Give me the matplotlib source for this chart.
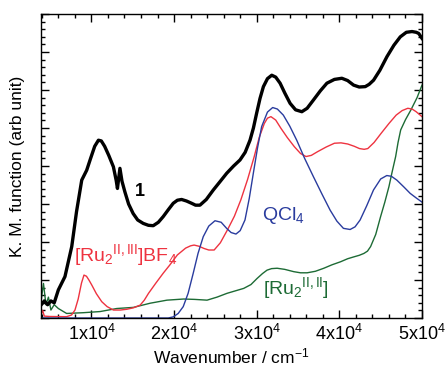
import matplotlib
matplotlib.use('Agg')
import matplotlib.pyplot as plt
from matplotlib.ticker import MultipleLocator, FixedLocator

plt.rcParams['font.family'] = ['Liberation Sans', 'DejaVu Sans']
plt.rcParams['mathtext.fontset'] = 'custom'
plt.rcParams['mathtext.rm'] = 'Liberation Sans'
plt.rcParams['mathtext.it'] = 'Liberation Sans:italic'
plt.rcParams['mathtext.bf'] = 'Liberation Sans:bold'

# compound 1 (black)
x_1 = [3900, 4300, 4700, 5100, 5500, 6000, 6800, 7620, 8200, 8830, 9430, 9900, 10400,
       10850, 11200, 11600, 12100, 12660, 13000, 13150, 13450, 13700, 14050, 14500,
       15050, 15600, 16270, 16900, 17480, 18100, 18690, 19300, 19900, 20400, 20910,
       21500, 22120, 22600, 23130, 23900, 24750, 25600, 26370, 27200, 27980, 28600,
       29190, 29600, 30000, 30400, 30810, 31300, 31820, 32300, 32830, 33400, 34040,
       34700, 35460, 36100, 36870, 37700, 38490, 39400, 40300, 41000, 41720, 42400,
       43130, 43600, 44140, 44900, 45760, 46600, 47370, 48100, 48790, 49300, 49600, 50000]
y_1 = [0.34, 0.45, 0.35, 0.45, 0.40, 0.74, 1.09, 1.88, 2.80, 3.63, 3.89, 4.20, 4.52,
       4.68, 4.66, 4.52, 4.28, 3.98, 3.62, 3.41, 3.94, 3.60, 3.32, 3.00,
       2.75, 2.58, 2.49, 2.44, 2.43, 2.52, 2.67, 2.85, 3.02, 3.10, 3.12,
       3.08, 3.02, 2.97, 2.97, 3.12, 3.37, 3.60, 3.81, 4.00, 4.16, 4.36,
       4.68, 5.00, 5.40, 5.78, 6.09, 6.30, 6.39, 6.34, 6.18, 5.92, 5.65,
       5.48, 5.43, 5.52, 5.74, 5.98, 6.18, 6.28, 6.31, 6.25, 6.13, 6.08,
       6.09, 6.15, 6.26, 6.52, 6.88, 7.18, 7.40, 7.52, 7.54, 7.52, 7.49, 7.36]

# [Ru2 II,III]BF4 (red)
x_red = [3900, 4100, 4300, 5000, 7000, 7600, 8010, 8400, 8800, 9100, 9400, 9700, 10040,
         10600, 11250, 11900, 12660, 13500, 14280, 15100, 15900, 16400, 16910, 17800,
         18690, 19500, 20400, 21400, 22000, 22420, 23000, 23630, 24200, 24850, 25600,
         26460, 27300, 28080, 28900, 29700, 30300, 30920, 31300, 31720, 32300, 32940,
         33700, 34550, 35300, 35960, 36600, 37380, 38400, 39400, 40200, 41010, 41800,
         42430, 43000, 43440, 44200, 45050, 46000, 46870, 47600, 48280, 48800, 49290, 50000]
y_red = [0.08, 0.20, 0.05, 0.04, 0.035, 0.08, 0.21, 0.50, 0.92, 1.13, 1.10, 1.00, 0.87,
         0.64, 0.43, 0.30, 0.21, 0.21, 0.23, 0.27, 0.34, 0.47, 0.65, 0.92,
         1.18, 1.40, 1.66, 1.84, 1.90, 1.92, 1.89, 1.83, 1.79, 1.79, 1.98,
         2.32, 2.68, 3.11, 3.65, 4.25, 4.75, 5.12, 5.26, 5.30, 5.21, 4.99,
         4.75, 4.51, 4.33, 4.25, 4.28, 4.38, 4.50, 4.60, 4.61, 4.58, 4.52,
         4.46, 4.44, 4.46, 4.62, 4.86, 5.12, 5.34, 5.46, 5.52, 5.50, 5.43, 5.30]

# QCl4 (blue)
x_blue = [3900, 10000, 15000, 19300, 19900, 20500, 21110, 21700, 22320, 22900, 23530,
          24200, 24950, 25700, 26360, 26900, 27490, 28000, 28580, 29100, 29590, 30100,
          30600, 31300, 31930, 32500, 33220, 34000, 34840, 35800, 36860, 37900, 38880,
          39700, 40490, 41300, 41900, 42510, 43300, 44130, 45000, 45740, 46300, 46950,
          47800, 48570, 49300, 50000]
y_blue = [0.0, 0.0, 0.0, 0.0, 0.03, 0.12, 0.30, 0.65, 1.18, 1.70, 2.14,
          2.42, 2.56, 2.52, 2.36, 2.25, 2.21, 2.30, 2.58, 3.15, 3.81, 4.48,
          5.04, 5.42, 5.54, 5.50, 5.34, 5.05, 4.68, 4.20, 3.72, 3.26, 2.84,
          2.55, 2.36, 2.33, 2.40, 2.58, 2.95, 3.37, 3.66, 3.75, 3.73, 3.63,
          3.45, 3.28, 3.16, 3.05]

# [Ru2 II,II] (green)
x_green = [3900, 4200, 4500, 4800, 5100, 5500, 6000, 7000, 9020, 11050, 13070, 15090,
           17120, 19140, 21160, 22500, 23990, 25200, 26410, 28430, 29300, 30040, 30700,
           31250, 31800, 32470, 33400, 34480, 35300, 36100, 37100, 38120, 39100, 40140,
           41000, 41760, 42400, 42970, 43400, 43780, 44400, 44990, 45500, 46000, 46400,
           46810, 47100, 47420, 48000, 48640, 49400, 50000]
y_green = [0.43, 0.91, 0.35, 0.55, 0.21, 0.35, 0.25, 0.12, 0.14, 0.17, 0.25, 0.28,
           0.39, 0.47, 0.50, 0.49, 0.47, 0.55, 0.65, 0.78, 0.88, 1.04, 1.17,
           1.26, 1.30, 1.31, 1.28, 1.22, 1.19, 1.19, 1.23, 1.31, 1.40, 1.48,
           1.56, 1.61, 1.65, 1.70, 1.76, 1.88, 2.20, 2.67, 3.05, 3.46, 3.86,
           4.25, 4.62, 4.95, 5.22, 5.47, 5.80, 6.13]

fig = plt.figure(figsize=(4.48, 3.70), dpi=100)
ax = fig.add_axes([0.0915, 0.1405, 0.8505, 0.8215])

ax.plot(x_green, y_green, color='#1d6b35', lw=1.0)
ax.plot(x_red, y_red, color='#ee3340', lw=1.0)
ax.plot(x_blue, y_blue, color='#2a3c9e', lw=1.0)
ax.plot(x_1, y_1, color='black', lw=2.4)

ax.text(15200, 3.33, '1', color='black', fontsize=13, fontweight='bold', va='center')
ax.text(30600, 2.71, 'QCl$_4$', color='#2a3c9e', fontsize=14, va='center')
ax.text(14080, 1.66, '[Ru$_2$$^{\\mathrm{II,III}}$]BF$_4$', color='#ee3340',
        fontsize=14, va='center', ha='center')
ax.text(34770, 0.78, '[Ru$_2$$^{\\mathrm{II,II}}$]', color='#1d6b35',
        fontsize=14, va='center', ha='center')

ax.set_xlim(3900, 50000)
ax.set_ylim(0, 8)
ax.xaxis.set_major_locator(FixedLocator([10000, 20000, 30000, 40000, 50000]))
ax.set_xticklabels(['1x10$^4$', '2x10$^4$', '3x10$^4$', '4x10$^4$', '5x10$^4$'])
ax.xaxis.set_minor_locator(MultipleLocator(2000))
ax.yaxis.set_major_locator(MultipleLocator(1))
ax.yaxis.set_minor_locator(MultipleLocator(0.2))
ax.set_yticklabels([])
ax.tick_params(which='both', direction='in', top=True, right=True, width=1.0, labelsize=13)
ax.tick_params(which='major', length=6)
ax.tick_params(which='minor', length=3)
ax.tick_params(axis='x', pad=4)
for s in ax.spines.values():
    s.set_linewidth(1.0)

ax.set_xlabel('Wavenumber / cm$^{-1}$', fontsize=12.5, labelpad=2)
ax.set_ylabel('K. M. function (arb unit)', fontsize=12.5, labelpad=8)

fig.savefig('out.png', dpi=100)
